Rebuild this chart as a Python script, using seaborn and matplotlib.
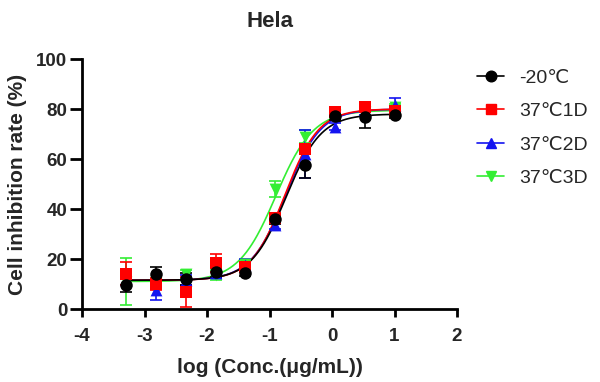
import numpy as np
import pandas as pd
import matplotlib
matplotlib.use("Agg")
import matplotlib.pyplot as plt
import seaborn as sns
from matplotlib.lines import Line2D

# ---- data ----
log_conc = [-3.294, -2.817, -2.340, -1.863, -1.386, -0.908, -0.431, 0.046, 0.523, 1.0]
series_names = ["-20\u2103", "37\u21031D", "37\u21032D", "37\u21033D"]
x_ticks = [-4, -3, -2, -1, 0, 1, 2]
y_ticks = [0, 20, 40, 60, 80, 100]

m20 = [9.5, 14.1, 12.0, 14.8, 14.4, 36.0, 57.5, 77.3, 77.0, 77.5]
e20 = [2.7, 2.7, 2.5, 2.0, 1.0, 2.0, 5.0, 1.5, 4.6, 1.0]
m1d = [14.1, 10.0, 7.0, 18.4, 16.7, 36.4, 64.0, 79.0, 81.0, 79.3]
e1d = [4.6, 2.5, 6.0, 3.6, 2.0, 1.5, 2.0, 1.5, 2.0, 1.0]
m2d = [11.7, 7.7, 11.7, 14.4, 17.7, 33.7, 62.0, 73.0, 79.7, 81.7]
e2d = [2.0, 4.0, 2.0, 2.0, 2.5, 1.8, 9.7, 1.5, 2.0, 2.7]
m3d = [11.0, 10.5, 14.0, 13.5, 18.0, 48.0, 69.0, 77.7, 79.0, 81.0]
e3d = [9.3, 2.0, 1.5, 2.0, 1.5, 3.3, 2.5, 1.5, 1.5, 1.0]

# fitted 4PL parameters: bottom, top, logEC50, hill
fit_bottom = [11.5, 11.5, 11.5, 11.0]
fit_top = [78.0, 80.0, 80.0, 79.5]
fit_logec50 = [-0.736, -0.751, -0.740, -0.898]
fit_hill = [1.55, 1.60, 1.55, 1.45]

colors = ["#000000", "#ff0000", "#1414f0", "#33ee33"]
markers = ["o", "s", "^", "v"]
msizes = [9, 8, 8.5, 8.5]

means = [m20, m1d, m2d, m3d]
errs = [e20, e1d, e2d, e3d]

rows = []
for name, m, e in zip(series_names, means, errs):
    for x, y, s in zip(log_conc, m, e):
        rows.append({"x": x, "y": y, "err": s, "series": name})
df = pd.DataFrame(rows)

xs = np.linspace(min(log_conc), max(log_conc), 300)
crows = []
for name, b, t, ec, h in zip(series_names, fit_bottom, fit_top, fit_logec50, fit_hill):
    ys = b + (t - b) / (1 + 10 ** ((ec - xs) * h))
    for x, y in zip(xs, ys):
        crows.append({"x": x, "y": y, "series": name})
cdf = pd.DataFrame(crows)

sns.set_style("ticks")
plt.rcParams["font.family"] = ["Liberation Sans", "DejaVu Sans"]
plt.rcParams["axes.unicode_minus"] = False

W, H = 600, 382
fig = plt.figure(figsize=(W / 100, H / 100), dpi=100)
ax = fig.add_axes([82 / W, (H - 309) / H, 375 / W, 250 / H])

order = [3, 2, 1, 0]  # draw green first, black last
for i in order:
    name = series_names[i]
    sub = cdf[cdf.series == name]
    sns.lineplot(data=sub, x="x", y="y", color=colors[i], lw=1.2, ax=ax,
                 legend=False, zorder=2 + (4 - i))
for i in order:
    name = series_names[i]
    sub = df[df.series == name]
    ax.errorbar(sub["x"], sub["y"], yerr=sub["err"], fmt="none", ecolor=colors[i],
                elinewidth=1.2, capsize=4, capthick=1.2, zorder=10 + (4 - i))
    sns.scatterplot(data=sub, x="x", y="y", color=colors[i], marker=markers[i],
                    s=msizes[i] ** 2, edgecolor=colors[i], linewidth=0, ax=ax,
                    legend=False, zorder=20 + (4 - i))

ax.set_xlim(-4, 2)
ax.set_ylim(0, 100)
ax.set_xticks(x_ticks)
ax.set_yticks(y_ticks)
for sp in ["top", "right"]:
    ax.spines[sp].set_visible(False)
for sp in ["left", "bottom"]:
    ax.spines[sp].set_linewidth(2)
    ax.spines[sp].set_color("black")
ax.tick_params(axis="x", width=2, length=6, pad=8, direction="out", labelsize=13.5, color="black")
ax.tick_params(axis="y", width=2, length=8.5, pad=2, direction="out", labelsize=13.5, color="black")
for lab in ax.get_xticklabels() + ax.get_yticklabels():
    lab.set_fontweight("bold")
ax.set_xlabel("log (Conc.(\u03bcg/mL))", fontsize=15, fontweight="bold")
ax.set_ylabel("Cell inhibition rate (%)", fontsize=15, fontweight="bold")
ax.xaxis.set_label_coords(0.5, -0.195)
ax.yaxis.set_label_coords(-0.147, 0.5)

fig.text(269.5 / W, (H - 27) / H, "Hela", fontsize=16, fontweight="bold",
         ha="center", va="baseline")

handles = [Line2D([0], [0], color=colors[i], marker=markers[i], markersize=msizes[i] * 0.85,
                  lw=1.2) for i in range(4)]
leg = fig.legend(handles, series_names, loc="upper left",
                 bbox_to_anchor=(477 / W, 1 - 69.2 / H), bbox_transform=fig.transFigure,
                 frameon=False, fontsize=14, handlelength=1.4, labelspacing=0.81,
                 handletextpad=0.75, borderaxespad=0, borderpad=0)

fig.savefig("out.png", dpi=100)
